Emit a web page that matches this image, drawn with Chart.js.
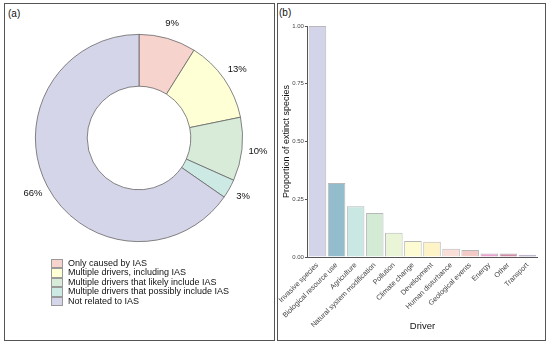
<!DOCTYPE html>
<html>
<head>
<meta charset="utf-8">
<script src="https://cdn.jsdelivr.net/npm/chart.js@4"></script>
<style>
  body { margin: 0; background: #fff; font-family: "Liberation Sans", Arial, sans-serif; }
  #page { position: relative; width: 550px; height: 346px; }
  .panel { position: absolute; border: 1px solid #555; box-sizing: border-box; }
  .tag { position: absolute; font-size: 10px; color: #111; }
  #legend { position: absolute; left: 51px; top: 259px; font-size: 9px; color: #111; }
  #legend .row { height: 9.4px; line-height: 9.4px; position: relative; white-space: nowrap; }
  #legend .sw { position: absolute; left: 0; top: 0; width: 12px; height: 9.4px; box-sizing: border-box; border: 1px solid #999; }
  #legend .tx { position: absolute; left: 17px; top: 0; }
</style>
</head>
<body>
<div id="page">
  <div class="panel" style="left:4px;top:3px;width:271px;height:338px;"></div>
  <div class="panel" style="left:277px;top:3px;width:269px;height:338px;"></div>
  <div class="tag" style="left:8px;top:8px;">(a)</div>
  <div class="tag" style="left:279px;top:7px;">(b)</div>
  <canvas id="donut" style="position:absolute;left:5px;top:4px;" width="268" height="335"></canvas>
  <canvas id="bars" style="position:absolute;left:278px;top:4px;" width="267" height="335"></canvas>
  <div id="legend"></div>
</div>
<script>
Chart.defaults.font.family = "'Liberation Sans', Arial, sans-serif";
Chart.defaults.color = "#444";

// panel (a)
const categories = [
  "Only caused by IAS",
  "Multiple drivers, including IAS",
  "Multiple drivers that likely include IAS",
  "Multiple drivers that possibly include IAS",
  "Not related to IAS"
];
const shares = [9, 13, 10, 3, 66];
const shareColors = ["#f6d3cd", "#ffffd6", "#d7ebd8", "#cde9e3", "#d5d5ea"];

// panel (b)
const drivers = [
  "Invasive species", "Biological resource use", "Agriculture",
  "Natural system modification", "Pollution", "Climate change",
  "Development", "Human disturbance", "Geological events",
  "Energy", "Other", "Transport"
];
const proportions = [1.00, 0.32, 0.22, 0.19, 0.105, 0.069, 0.066, 0.036, 0.030, 0.015, 0.015, 0.010];
const driverColors = [
  "#d3d3ea", "#93bccc", "#c9e7e3", "#d3ead5", "#eaf5d8", "#fdfbd2",
  "#fdf3c6", "#fadfd8", "#f4cac6", "#ec9fcf", "#cf8aa6", "#a190bf"
];

// legend for (a)
const legend = document.getElementById("legend");
categories.forEach((c, i) => {
  const row = document.createElement("div");
  row.className = "row";
  row.innerHTML = '<span class="sw" style="background:' + shareColors[i] + '"></span><span class="tx">' + c + '</span>';
  legend.appendChild(row);
});

// percent labels just outside each arc
const pctLabels = {
  id: "pctLabels",
  afterDatasetsDraw(chart) {
    const ctx = chart.ctx;
    const meta = chart.getDatasetMeta(0);
    ctx.save();
    ctx.font = "9.5px 'Liberation Sans', Arial, sans-serif";
    ctx.fillStyle = "#111";
    ctx.textAlign = "center";
    ctx.textBaseline = "middle";
    meta.data.forEach((arc, i) => {
      const mid = (arc.startAngle + arc.endAngle) / 2;
      const r = arc.outerRadius + 16;
      ctx.fillText(shares[i] + "%", arc.x + r * Math.cos(mid), arc.y + r * Math.sin(mid));
    });
    ctx.restore();
  }
};

new Chart(document.getElementById("donut"), {
  type: "doughnut",
  data: {
    labels: categories,
    datasets: [{
      data: shares,
      backgroundColor: shareColors,
      borderColor: "#666",
      borderWidth: 0.8
    }]
  },
  options: {
    responsive: false,
    animation: false,
    cutout: "50%",
    layout: { padding: { left: 30, right: 30, top: 30, bottom: 97 } },
    plugins: { legend: { display: false }, tooltip: { enabled: false } }
  },
  plugins: [pctLabels]
});

new Chart(document.getElementById("bars"), {
  type: "bar",
  data: {
    labels: drivers,
    datasets: [{
      data: proportions,
      backgroundColor: driverColors,
      borderColor: "rgba(0,0,0,0.28)",
      borderWidth: 1,
      barPercentage: 0.92,
      categoryPercentage: 1.0
    }]
  },
  options: {
    responsive: false,
    animation: false,
    layout: { padding: { left: 0, right: 8, top: 22, bottom: 0 } },
    plugins: { legend: { display: false }, tooltip: { enabled: false } },
    scales: {
      x: {
        grid: { display: false, drawTicks: true, tickLength: 3, color: "#555" },
        border: { display: true, color: "#555", width: 1 },
        ticks: {
          autoSkip: false, minRotation: 45, maxRotation: 45,
          font: { size: 7.2 }, color: "#444", padding: 1
        },
        title: { display: true, text: "Driver", font: { size: 9.5 }, color: "#111", padding: { top: 4, bottom: 7 } },
        afterFit(scale) { scale.height = 82; }
      },
      y: {
        min: 0, max: 1,
        grid: { drawOnChartArea: false, tickLength: 3, color: "#555" },
        border: { display: true, color: "#555", width: 1 },
        ticks: {
          stepSize: 0.25, font: { size: 6 }, color: "#444", padding: 1,
          callback: v => v.toFixed(2)
        },
        title: { display: true, text: "Proportion of extinct species", font: { size: 9 }, color: "#111", padding: { top: 1, bottom: 0 } },
        afterFit(scale) { scale.width = 28; }
      }
    }
  }
});
</script>
</body>
</html>
